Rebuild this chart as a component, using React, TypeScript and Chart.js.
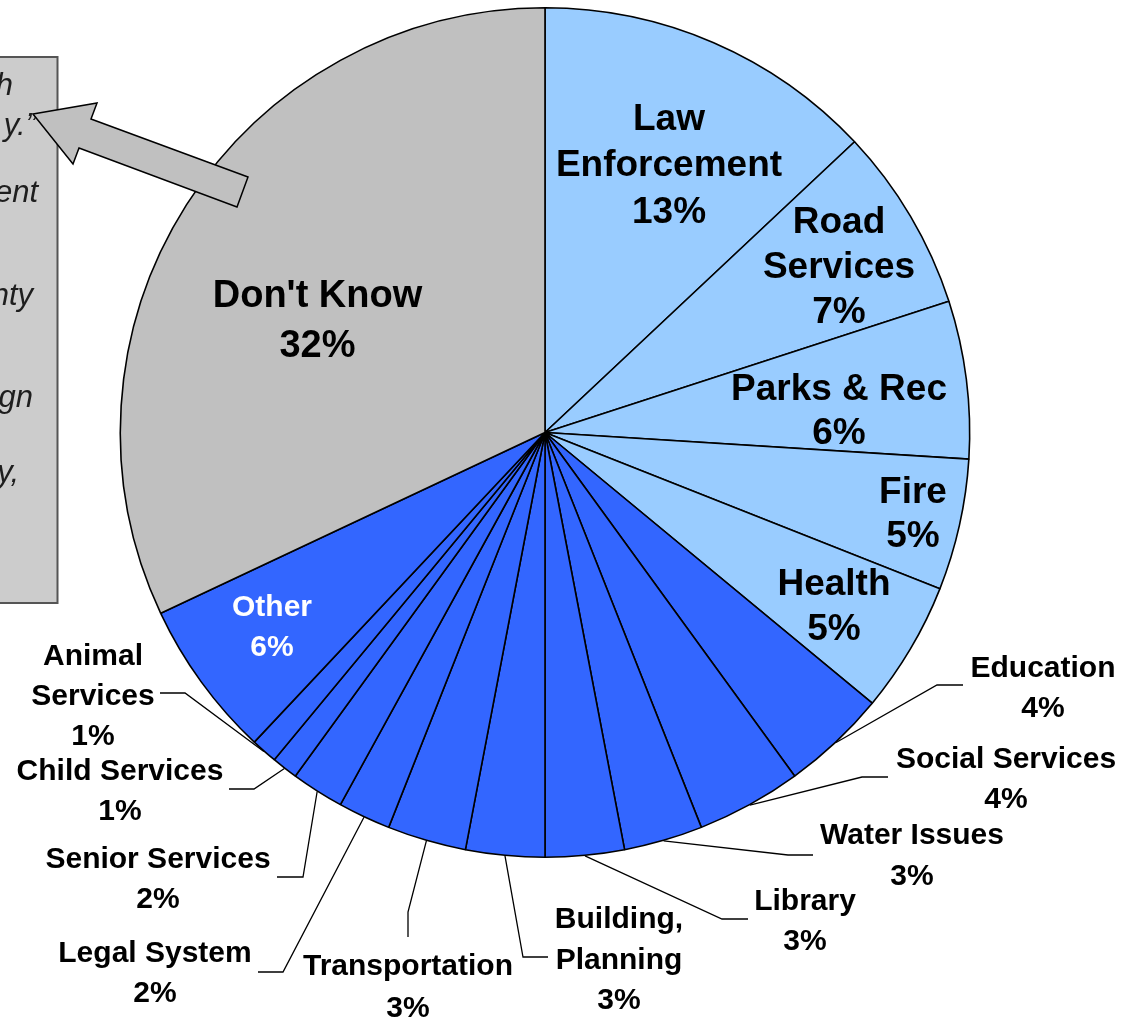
import React, { useEffect, useRef } from "react";
import { Chart, registerables } from "chart.js";

Chart.register(...registerables);

// ---- Data ----
const categories = [
  "Law Enforcement",
  "Road Services",
  "Parks & Rec",
  "Fire",
  "Health",
  "Education",
  "Social Services",
  "Water Issues",
  "Library",
  "Building, Planning",
  "Transportation",
  "Legal System",
  "Senior Services",
  "Child Services",
  "Animal Services",
  "Other",
  "Don't Know",
];
const percentages = [13, 7, 6, 5, 5, 4, 4, 3, 3, 3, 3, 2, 2, 1, 1, 6, 32];
const groups = [
  "major", "major", "major", "major", "major",
  "minor", "minor", "minor", "minor", "minor", "minor", "minor", "minor", "minor", "minor", "minor",
  "unknown",
];
const labelLines = [
  ["Law", "Enforcement"],
  ["Road", "Services"],
  ["Parks & Rec"],
  ["Fire"],
  ["Health"],
  ["Education"],
  ["Social Services"],
  ["Water Issues"],
  ["Library"],
  ["Building,", "Planning"],
  ["Transportation"],
  ["Legal System"],
  ["Senior Services"],
  ["Child Services"],
  ["Animal", "Services"],
  ["Other"],
  ["Don't Know"],
];
const boxFragments = ["h", "y.\u201D", "ent", "nty", "gn", "y,"];

// ---- Styles / layout ----
const groupColors: Record<string, string> = {
  major: "#99CCFF",
  minor: "#3366FF",
  unknown: "#C0C0C0",
};
const FONT = "'Liberation Sans', Arial, Helvetica, sans-serif";

type LabelPos = {
  x: number;
  y: number;
  lh: number;
  size: number;
  color?: string;
  elbow?: [number, number];
  end?: [number, number];
};
const labelLayout: LabelPos[] = [
  { x: 669, y: 129.5, lh: 46.5, size: 37 },
  { x: 839, y: 233, lh: 45, size: 37 },
  { x: 839, y: 399.5, lh: 44.5, size: 37 },
  { x: 913, y: 503, lh: 44, size: 37 },
  { x: 834, y: 595, lh: 45, size: 37 },
  { x: 1043, y: 677, lh: 40, size: 30, elbow: [937, 685], end: [963, 685] },
  { x: 1006, y: 768, lh: 40, size: 30, elbow: [862, 777], end: [888, 777] },
  { x: 912, y: 844, lh: 41, size: 30, elbow: [788, 855], end: [813, 855] },
  { x: 805, y: 910, lh: 40, size: 30, elbow: [722, 919], end: [748, 919] },
  { x: 619, y: 928, lh: 40.5, size: 30, elbow: [523, 957], end: [548, 957] },
  { x: 408, y: 975, lh: 42, size: 30, elbow: [408, 912], end: [408, 937] },
  { x: 155, y: 962, lh: 40, size: 30, elbow: [283, 972], end: [258, 972] },
  { x: 158, y: 868, lh: 40, size: 30, elbow: [303, 877], end: [277, 877] },
  { x: 120, y: 780, lh: 40, size: 30, elbow: [254, 789], end: [229, 789] },
  { x: 93, y: 665, lh: 40, size: 30, elbow: [185, 693], end: [160, 693] },
  { x: 272, y: 616, lh: 40, size: 30, color: "#FFFFFF" },
  { x: 317.5, y: 307, lh: 50, size: 38 },
];
const boxLayout = [
  { right: 13, y: 95 },
  { right: 36, y: 135 },
  { right: 38, y: 202 },
  { right: 33, y: 305 },
  { right: 33, y: 407 },
  { right: 19, y: 482 },
];
const arrowShape: [number, number][] = [
  [33, 114],
  [97, 103],
  [91, 119],
  [248, 177],
  [237, 207],
  [79, 148],
  [73, 164],
];

const overlayPlugin = {
  id: "overlay",
  afterDraw(chart: any) {
    const ctx: CanvasRenderingContext2D = chart.ctx;
    const meta = chart.getDatasetMeta(0);
    ctx.save();

    // text box (partially off-canvas)
    ctx.fillStyle = "#CCCCCC";
    ctx.fillRect(-4, 57, 61.5, 546);
    ctx.strokeStyle = "#555555";
    ctx.lineWidth = 2;
    ctx.strokeRect(-4, 57, 61.5, 546);
    ctx.fillStyle = "#1E1E1E";
    ctx.font = `italic 31px ${FONT}`;
    ctx.textAlign = "right";
    ctx.textBaseline = "alphabetic";
    boxFragments.forEach((t, i) => {
      ctx.fillText(t, boxLayout[i].right, boxLayout[i].y);
    });

    // labels and leader lines
    meta.data.forEach((arc: any, i: number) => {
      const L = labelLayout[i];
      if (!L) return;
      if (L.elbow && L.end) {
        const p = arc.getProps(["x", "y", "startAngle", "endAngle", "outerRadius"], true);
        const mid = (p.startAngle + p.endAngle) / 2;
        const r = p.outerRadius + 0.5;
        ctx.beginPath();
        ctx.moveTo(p.x + Math.cos(mid) * r, p.y + Math.sin(mid) * r);
        ctx.lineTo(L.elbow[0], L.elbow[1]);
        ctx.lineTo(L.end[0], L.end[1]);
        ctx.strokeStyle = "#000000";
        ctx.lineWidth = 1.3;
        ctx.stroke();
      }
      const lines = [...labelLines[i], `${percentages[i]}%`];
      ctx.fillStyle = L.color || "#000000";
      ctx.font = `bold ${L.size}px ${FONT}`;
      ctx.textAlign = "center";
      ctx.textBaseline = "alphabetic";
      lines.forEach((t, k) => ctx.fillText(t, L.x, L.y + k * L.lh));
    });

    // block arrow
    ctx.beginPath();
    arrowShape.forEach(([x, y], k) => (k === 0 ? ctx.moveTo(x, y) : ctx.lineTo(x, y)));
    ctx.closePath();
    ctx.fillStyle = "#C0C0C0";
    ctx.fill();
    ctx.strokeStyle = "#000000";
    ctx.lineWidth = 1.5;
    ctx.lineJoin = "miter";
    ctx.stroke();

    ctx.restore();
  },
};

export default function App() {
  const ref = useRef<HTMLCanvasElement | null>(null);
  useEffect(() => {
    document.body.style.margin = "0";
    document.body.style.background = "#FFFFFF";
    const canvas = ref.current;
    if (!canvas) return;
    const chart = new Chart(canvas, {
      type: "pie",
      data: {
        labels: categories,
        datasets: [
          {
            data: percentages,
            backgroundColor: groups.map((g) => groupColors[g]),
            borderColor: "#000000",
            borderWidth: 1.6,
          },
        ],
      },
      options: {
        responsive: false,
        animation: false,
        devicePixelRatio: 1,
        layout: { padding: { left: 119, right: 159, top: 7, bottom: 161 } },
        plugins: {
          legend: { display: false },
          tooltip: { enabled: false },
        },
      },
      plugins: [overlayPlugin],
    });
    return () => chart.destroy();
  }, []);
  return (
    <canvas ref={ref} width={1130} height={1019} style={{ display: "block", width: 1130, height: 1019 }} />
  );
}
